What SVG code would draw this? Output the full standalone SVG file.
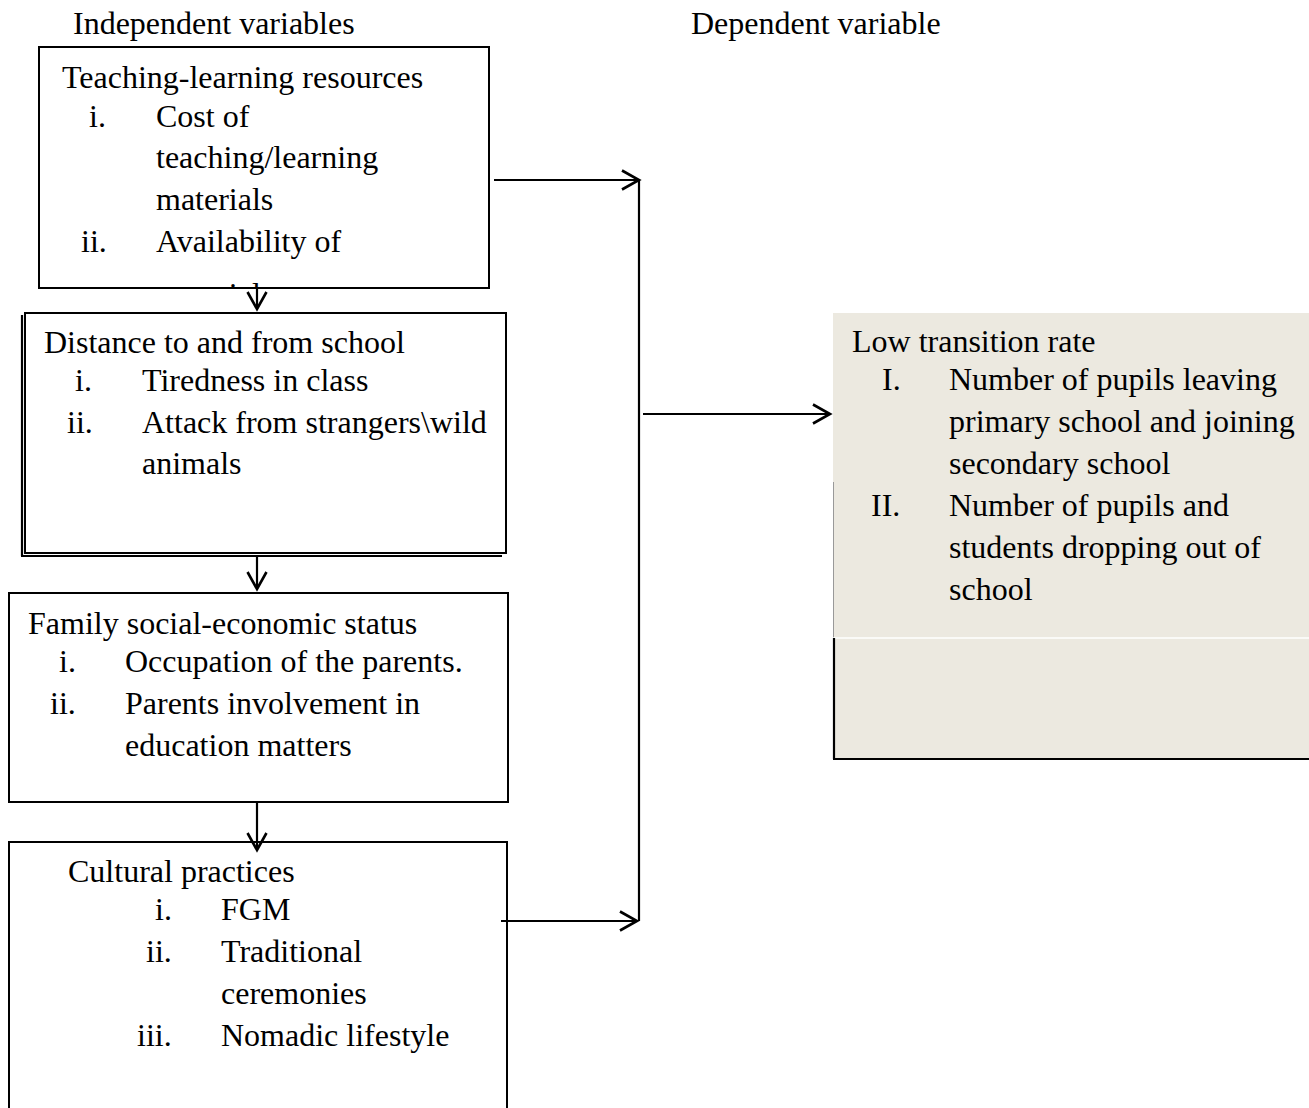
<svg xmlns="http://www.w3.org/2000/svg" width="1309" height="1108" viewBox="0 0 1309 1108">
<style>
text{font-family:"Liberation Serif","Times New Roman",serif;font-size:32px;fill:#000}
.box{fill:#fff;stroke:#000;stroke-width:2}
.ln{stroke:#000;stroke-width:2.2;fill:none}
</style>
<defs>
<marker id="ah" markerUnits="userSpaceOnUse" markerWidth="22" markerHeight="22" viewBox="0 0 22 22" refX="19" refY="11" orient="auto">
<path d="M2,1.5 L19,11 L2,20.5" fill="none" stroke="#000" stroke-width="2.6"/>
</marker>
<clipPath id="c1"><rect x="40" y="48" width="448" height="239"/></clipPath>
</defs>
<rect width="1309" height="1108" fill="#fff"/>
<g id="headers">
<text x="73" y="34">Independent variables</text>
<text x="691" y="34">Dependent variable</text>
</g>
<g id="dep">
<rect x="833" y="313" width="476" height="446" fill="#ECE9E0"/>
<line x1="833.5" y1="482" x2="833.5" y2="638" stroke="#999" stroke-width="1"/>
<line x1="833" y1="638" x2="1309" y2="638" stroke="#fff" stroke-width="1.5"/>
<line x1="834" y1="638" x2="834" y2="759" class="ln"/>
<line x1="833" y1="759" x2="1309" y2="759" class="ln"/>
<text x="852" y="352">Low transition rate</text>
<text x="882" y="390">I.</text><text x="949" y="390">Number of pupils leaving</text>
<text x="949" y="432">primary school and joining</text>
<text x="949" y="474">secondary school</text>
<text x="871" y="516">II.</text><text x="949" y="516">Number of pupils and</text>
<text x="949" y="558">students dropping out of</text>
<text x="949" y="600">school</text>
</g>
<g id="n1">
<rect x="39" y="47" width="450" height="241" class="box"/>
<g clip-path="url(#c1)">
<text x="62" y="88">Teaching-learning resources</text>
<text x="89" y="127">i.</text><text x="156" y="127">Cost of</text>
<text x="156" y="168">teaching/learning</text>
<text x="156" y="210">materials</text>
<text x="81" y="252">ii.</text><text x="156" y="252">Availability of</text>
<text x="156" y="305">materials</text>
</g>
</g>
<g id="n2">
<rect x="25" y="313" width="481" height="240" class="box"/>
<line x1="22" y1="315" x2="22" y2="556" class="ln"/>
<line x1="21" y1="556" x2="502" y2="556" class="ln"/>
<text x="44" y="353">Distance to and from school</text>
<text x="75" y="391">i.</text><text x="142" y="391">Tiredness in class</text>
<text x="67" y="433">ii.</text><text x="142" y="433">Attack from strangers\wild</text>
<text x="142" y="474">animals</text>
</g>
<g id="n3">
<rect x="9" y="593" width="499" height="209" class="box"/>
<text x="28" y="634">Family social-economic status</text>
<text x="59" y="672">i.</text><text x="125" y="672">Occupation of the parents.</text>
<text x="50" y="714">ii.</text><text x="125" y="714">Parents involvement in</text>
<text x="125" y="756">education matters</text>
</g>
<g id="n4">
<path d="M9,1108 V842 H507 V1108" class="box"/>
<text x="68" y="882">Cultural practices</text>
<text x="155" y="920">i.</text><text x="221" y="920">FGM</text>
<text x="146" y="962">ii.</text><text x="221" y="962">Traditional</text>
<text x="221" y="1004">ceremonies</text>
<text x="137" y="1046">iii.</text><text x="221" y="1046">Nomadic lifestyle</text>
</g>
<g id="connectors">
<line x1="639" y1="180" x2="639" y2="921" class="ln"/>
<line x1="494" y1="180" x2="639" y2="180" class="ln" marker-end="url(#ah)"/>
<line x1="643" y1="414" x2="830" y2="414" class="ln" marker-end="url(#ah)"/>
<line x1="501" y1="921" x2="637" y2="921" class="ln" marker-end="url(#ah)"/>
<line x1="257" y1="288" x2="257" y2="309" class="ln" marker-end="url(#ah)"/>
<line x1="257" y1="556" x2="257" y2="589" class="ln" marker-end="url(#ah)"/>
<line x1="257" y1="802" x2="257" y2="850" class="ln" marker-end="url(#ah)"/>
</g>
</svg>
